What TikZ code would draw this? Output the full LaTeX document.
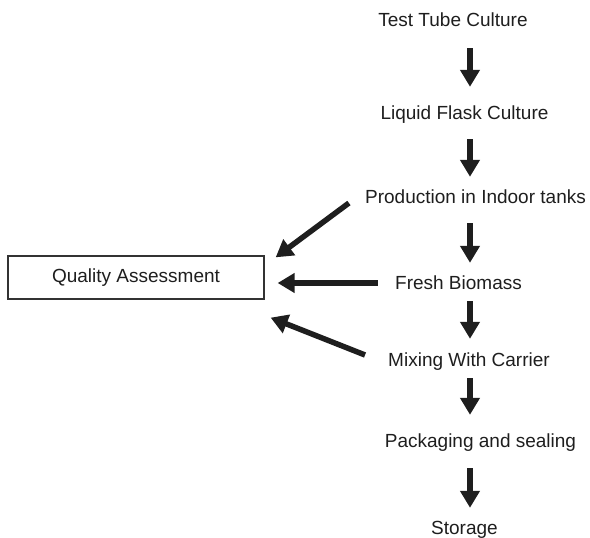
\documentclass[tikz,border=0pt]{standalone}
\usepackage{fontspec}
\setmainfont{Liberation Sans}
\usepackage{tikz}
\usetikzlibrary{arrows.meta, positioning}
\definecolor{inkdark}{HTML}{1E1E1E}
\definecolor{boxline}{HTML}{333333}

\begin{document}
\begin{tikzpicture}[
    x=1pt, y=-1pt,
    every node/.style={font=\fontsize{19}{22}\selectfont, text=inkdark},
    steplabel/.style={inner sep=0pt, text height=14pt, text depth=4pt},
    qualitybox/.style={rectangle, draw=boxline, line width=1.3pt, minimum width=256pt, minimum height=43pt, inner sep=0pt},
    flow/.style={line width=5.5pt, color=inkdark, -{Triangle[length=17pt, width=19pt]}},
]
\useasboundingbox (0,0) rectangle (590,538);
% Process column (1 unit = 1 px of the figure)
\coordinate (col) at (470,0);
\node[steplabel] (test)  at (453,22)    {Test Tube Culture};
\node[steplabel] (flask) at (464.5,114) {Liquid Flask Culture};
\node[steplabel] (prod)  at (475.5,198) {Production in Indoor tanks};
\node[steplabel] (fresh) at (458.5,284) {Fresh Biomass};
\node[steplabel] (mix)   at (469,361)   {Mixing With Carrier};
\node[steplabel] (pack)  at (480.5,442) {Packaging and sealing};
\node[steplabel] (store) at (464.5,529) {Storage};
% Quality check
\node[qualitybox] (qa) at (136,277.5) {Quality Assessment};
% Downward arrows
\draw[flow, shorten <=17pt, shorten >=18pt] (test.south -| col) -- (flask.north -| col);
\draw[flow, shorten <=16pt, shorten >=12pt] (flask.south -| col) -- (prod.north -| col);
\draw[flow, shorten <=16pt, shorten >=12pt] (prod.south -| col) -- (fresh.north -| col);
\draw[flow, shorten <=8pt, shorten >=13pt] (fresh.south -| col) -- (mix.north -| col);
\draw[flow, shorten <=8pt, shorten >=18pt] (mix.south -| col) -- (pack.north -| col);
\draw[flow, shorten <=17pt, shorten >=12pt] (pack.south -| col) -- (store.north -| col);
% Arrows into the quality box
\draw[flow] ([xshift=-16pt, yshift=-5pt]prod.west) -- ([xshift=11pt, yshift=-2pt]qa.north east);
\draw[flow] ([xshift=-17pt, yshift=1pt]fresh.west) -- ([xshift=13pt, yshift=-5.5pt]qa.east);
\draw[flow] ([xshift=-23pt, yshift=6pt]mix.west) -- ([xshift=6pt, yshift=-18pt]qa.south east);
\end{tikzpicture}
\end{document}
